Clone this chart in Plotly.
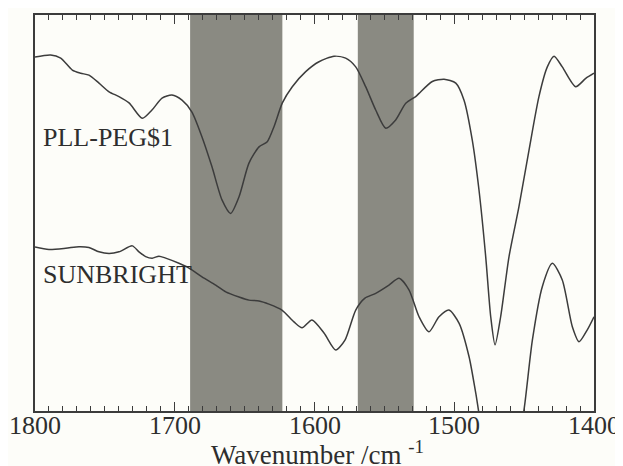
import plotly.graph_objects as go

# Wavenumbers (cm^-1) and relative transmittance (arbitrary units, 0 = bottom axis, 100 = top axis)
pll_wn = [1800, 1788.8, 1781.6, 1773.3, 1767.3, 1761.4, 1754.2, 1747.0, 1739.9, 1732.7,
          1723.2, 1716.3, 1709.1, 1702.0, 1694.8, 1687.7, 1680.5, 1673.3, 1666.2, 1660.0,
          1654.0, 1646.9, 1639.7, 1633.8, 1629.0, 1623.0, 1615.9, 1606.3, 1596.8, 1586.0,
          1577.7, 1570.5, 1563.4, 1556.2, 1549.0, 1541.9, 1534.7, 1527.6, 1525.2, 1515.7,
          1507.3, 1498.9, 1493.0, 1487.1, 1482.3, 1477.5, 1473.9, 1470.8, 1466.8, 1460.8,
          1453.7, 1446.5, 1439.4, 1433.4, 1428.6, 1422.7, 1413.1, 1405.9, 1400.0]
pll_val = [89.4, 89.9, 89.1, 86.1, 85.3, 84.8, 82.8, 80.6, 79.4, 77.8,
           73.9, 76.0, 79.0, 79.8, 78.5, 75.5, 69.2, 61.6, 53.3, 49.9,
           54.1, 62.6, 66.7, 68.0, 71.8, 77.8, 81.9, 85.7, 88.2, 89.6,
           89.1, 86.9, 81.9, 76.0, 71.4, 73.5, 77.7, 79.4, 80.2, 83.2,
           83.8, 82.8, 78.5, 68.4, 55.8, 39.0, 23.8, 16.7, 23.8, 39.0,
           51.6, 65.9, 79.4, 86.9, 89.6, 86.9, 81.9, 84.0, 85.3]

sun_wn = [1800, 1790.0, 1778.0, 1768.5, 1761.4, 1754.2, 1747.0, 1739.9, 1730.4, 1725.6,
          1720.8, 1716.1, 1711.3, 1706.5, 1697.0, 1689.8, 1680.5, 1670.7, 1663.5, 1654.0,
          1646.9, 1639.7, 1632.6, 1623.3, 1614.7, 1608.9, 1601.8, 1593.2, 1584.8, 1578.2,
          1570.5, 1563.9, 1556.2, 1546.7, 1539.5, 1532.4, 1525.2, 1518.1, 1510.9, 1503.8,
          1496.6, 1489.4, 1484.6, 1480.1, 1473.7, 1465.8, 1457.9, 1453.7, 1450.1, 1444.1,
          1437.0, 1429.8, 1422.7, 1415.5, 1410.7, 1404.8, 1400.0]
sun_val = [41.4, 40.8, 41.1, 41.5, 41.3, 40.2, 39.8, 40.2, 41.7, 40.2,
           39.0, 38.6, 39.1, 38.6, 37.3, 36.1, 33.9, 31.8, 30.1, 28.8,
           28.0, 27.8, 27.0, 25.5, 22.5, 21.0, 23.0, 19.7, 15.4, 17.9,
           25.5, 28.5, 29.7, 31.8, 33.5, 30.6, 23.8, 20.0, 23.8, 25.5,
           22.2, 13.7, 4.5, -4.8, -11.1, -13.6, -11.1, -6.1, 0.3, 17.9,
           31.4, 37.3, 33.1, 21.3, 17.5, 20.5, 23.8]

bands = [(1689, 1623), (1569, 1529)]
labels = [("PLL-PEG$1", 1796, 69.0), ("SUNBRIGHT", 1796, 34.5)]
tick_vals = [1800, 1700, 1600, 1500, 1400]
tick_text = ["1800", "1700", "1600", "1500", "1400"]

LINE = "#3c3c3c"
FONT = "Liberation Serif"
TXT = "#2e2e2e"

fig = go.Figure()
for wn, val in [(pll_wn, pll_val), (sun_wn, sun_val)]:
    fig.add_trace(go.Scatter(x=wn, y=val, mode="lines",
                             line=dict(color=LINE, width=1.5, shape="spline", smoothing=0.7),
                             showlegend=False, hoverinfo="skip"))

for a, b in bands:
    fig.add_shape(type="rect", xref="x", yref="paper", x0=a, x1=b, y0=0, y1=1,
                  fillcolor="#8a8a82", line=dict(width=0), layer="below")

for text, x, y in labels:
    fig.add_annotation(x=x, y=y, xref="x", yref="y", text=text, showarrow=False,
                       xanchor="left", yanchor="middle",
                       font=dict(family=FONT, size=26, color=TXT))

# tick labels placed as annotations at the tick values (finer vertical control)
for v, t in zip(tick_vals, tick_text):
    fig.add_annotation(x=v, y=-0.037, xref="x", yref="paper", text=t, showarrow=False,
                       xanchor="center", yanchor="middle",
                       font=dict(family=FONT, size=26, color=TXT))

fig.add_annotation(x=0.505, y=-0.058, xref="paper", yref="paper",
                   text="Wavenumber /cm <sup>-1</sup>", showarrow=False,
                   xanchor="center", yanchor="top",
                   font=dict(family=FONT, size=27, color=TXT))

fig.update_xaxes(range=[1800, 1400], tickvals=tick_vals, showticklabels=False,
                 ticks="inside", ticklen=9, tickwidth=1.2, tickcolor=LINE,
                 minor=dict(dtick=10, ticks="inside", ticklen=5, tickwidth=1, tickcolor=LINE),
                 showline=True, linecolor=LINE, linewidth=1.8, mirror="allticks",
                 showgrid=False, zeroline=False, automargin=False)
fig.update_yaxes(range=[0, 100], showticklabels=False, ticks="", showline=True,
                 linecolor=LINE, linewidth=1.8, mirror=True, showgrid=False, zeroline=False,
                 automargin=False)

# page body has an 8px default margin; size the figure so the plot box lands at 35..594 x 15..411
fig.update_layout(width=615, height=458, margin=dict(l=27, r=29, t=7, b=55, autoexpand=False),
                  plot_bgcolor="#fdfdf9", paper_bgcolor="#fdfdf9")

fig.write_html("out.html")
